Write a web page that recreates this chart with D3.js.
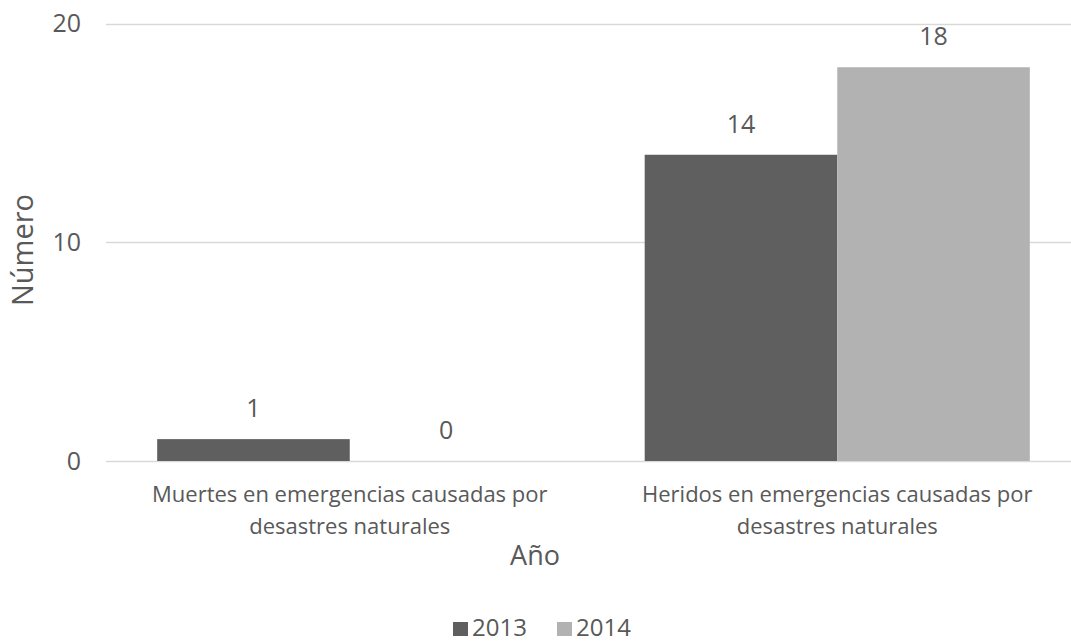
<!DOCTYPE html>
<html>
<head>
<meta charset="utf-8">
<script src="https://cdn.jsdelivr.net/npm/d3@7"></script>
<style>
  body { margin: 0; background: #fff; }
  text { font-family: "Open Sans", sans-serif; fill: #595959; }
</style>
</head>
<body>
<div id="chart"></div>
<script>
let categories = [
    ["Muertes en emergencias causadas por", "desastres naturales"],
    ["Heridos en emergencias causadas por", "desastres naturales"]
];
let catKeys = ["muertes", "heridos"];
let years = ["2013", "2014"];
let values2013 = [1, 14];
let values2014 = [0, 18];
let yTicks = [0, 10, 20];

let colors = { "2013": "#5f5f5f", "2014": "#b2b2b2" };

let data = catKeys.map((k, i) => ({
    key: k,
    label: categories[i],
    vals: [
        { year: "2013", value: values2013[i] },
        { year: "2014", value: values2014[i] }
    ]
}));

let width = 1071, height = 643;

let svg = d3.select("#chart")
    .append("svg")
    .attr("width", width)
    .attr("height", height);

let x = d3.scaleBand()
    .domain(catKeys)
    .range([106, 1081])
    .paddingInner(0.21)
    .paddingOuter(0.105);

let xs = d3.scaleBand()
    .domain(years)
    .range([0, x.bandwidth()])
    .padding(0);

let y = d3.scaleLinear()
    .domain([0, 20])
    .range([461, 23.5]);

// gridlines
svg.selectAll("line.grid")
    .data(yTicks)
    .enter().append("line")
    .attr("class", "grid")
    .attr("x1", 106)
    .attr("x2", 1081)
    .attr("y1", d => Math.round(y(d)) + 0.5)
    .attr("y2", d => Math.round(y(d)) + 0.5)
    .attr("stroke", "#d9d9d9")
    .attr("stroke-width", 1.5);

// y tick labels
svg.selectAll("text.ytick")
    .data(yTicks)
    .enter().append("text")
    .attr("class", "ytick")
    .attr("x", 81)
    .attr("y", d => y(d))
    .attr("dy", "0.35em")
    .attr("text-anchor", "end")
    .style("font-size", "25px")
    .text(d => d);

// bars
let groups = svg.selectAll("g.cat")
    .data(data)
    .enter().append("g")
    .attr("class", "cat")
    .attr("transform", d => `translate(${x(d.key)},0)`);

groups.selectAll("rect")
    .data(d => d.vals)
    .enter().append("rect")
    .attr("x", d => xs(d.year))
    .attr("y", d => y(d.value))
    .attr("width", xs.bandwidth())
    .attr("height", d => y(0) - y(d.value))
    .attr("fill", d => colors[d.year]);

groups.selectAll("text.value")
    .data(d => d.vals)
    .enter().append("text")
    .attr("class", "value")
    .attr("x", d => xs(d.year) + xs.bandwidth() / 2)
    .attr("y", d => y(d.value) - 22)
    .attr("text-anchor", "middle")
    .style("font-size", "25px")
    .text(d => d.value);

// category labels
groups.append("text")
    .attr("class", "catlabel")
    .attr("text-anchor", "middle")
    .style("font-size", "22px")
    .selectAll("tspan")
    .data(d => d.label)
    .enter().append("tspan")
    .attr("x", x.bandwidth() / 2)
    .attr("y", (d, i) => 502 + i * 32)
    .text(d => d);

// axis titles
svg.append("text")
    .attr("x", 535)
    .attr("y", 565)
    .attr("text-anchor", "middle")
    .style("font-size", "27px")
    .text("Año");

svg.append("text")
    .attr("transform", "translate(33,250) rotate(-90)")
    .attr("text-anchor", "middle")
    .style("font-size", "29px")
    .text("Número");

// legend
let legend = svg.append("g");
let legendX = [453, 557];

legend.selectAll("rect")
    .data(years)
    .enter().append("rect")
    .attr("x", (d, i) => legendX[i])
    .attr("y", 622)
    .attr("width", 15)
    .attr("height", 14)
    .attr("fill", d => colors[d]);

legend.selectAll("text")
    .data(years)
    .enter().append("text")
    .attr("x", (d, i) => legendX[i] + 19)
    .attr("y", 636)
    .style("font-size", "24px")
    .text(d => d);
</script>
</body>
</html>
